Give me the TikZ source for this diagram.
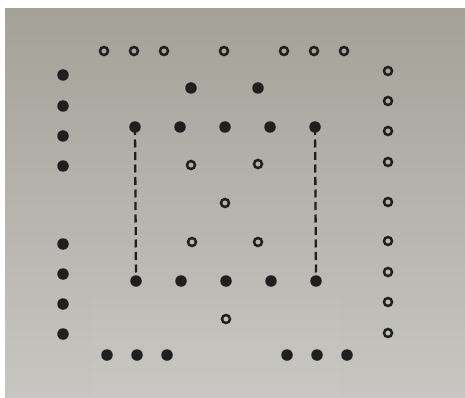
\documentclass[tikz,border=0pt]{standalone}
\begin{document}
\begin{tikzpicture}[x=1pt,y=-1pt,
  fdot/.style={circle,fill=black!88,minimum size=11.5pt,inner sep=0pt},
  odot/.style={circle,draw=black!88,line width=2.5pt,minimum size=8pt,inner sep=0pt},
  dline/.style={line width=2.3pt,black!88,dash pattern=on 8pt off 4.5pt}]
\useasboundingbox (0,0) rectangle (465,398);
\fill[white] (0,0) rectangle (465,398);
\shade[top color={rgb,255:red,164;green,161;blue,152},bottom color={rgb,255:red,200;green,198;blue,194}] (5,9) rectangle (465,398);
\fill[white,opacity=0.025] (92,297) rectangle (340,398);
% top open row
\foreach \x [count=\i] in {104,134,164,224,284,314,344}
  \node[odot] (t\i) at (\x,51) {};
% left filled column
\foreach \y [count=\i] in {75,106,136,166,244,274,304,334}
  \node[fdot] (l\i) at (63,\y) {};
% right open column
\foreach \y [count=\i] in {71,101,131,162,202,241,272,302,333}
  \node[odot] (r\i) at (388,\y) {};
% inner filled
\node[fdot] (a1) at (191,88) {};
\node[fdot] (a2) at (258,88) {};
\foreach \x [count=\i] in {135,180,225,270,315}
  \node[fdot] (m\i) at (\x,127) {};
\foreach \x [count=\i] in {136,181,226,271,316}
  \node[fdot] (n\i) at (\x,281) {};
% inner open
\node[odot] (c1) at (191,165) {};
\node[odot] (c2) at (258,164) {};
\node[odot] (c3) at (225,203) {};
\node[odot] (c4) at (192,242) {};
\node[odot] (c5) at (258,242) {};
\node[odot] (c6) at (226,319) {};
% bottom filled row
\foreach \x [count=\i] in {107,137,167,287,317,347}
  \node[fdot] (b\i) at (\x,355) {};
% dashed connectors
\draw[dline] (m1.center) -- (n1.center);
\draw[dline] (m5.center) -- (n5.center);
\end{tikzpicture}
\end{document}
